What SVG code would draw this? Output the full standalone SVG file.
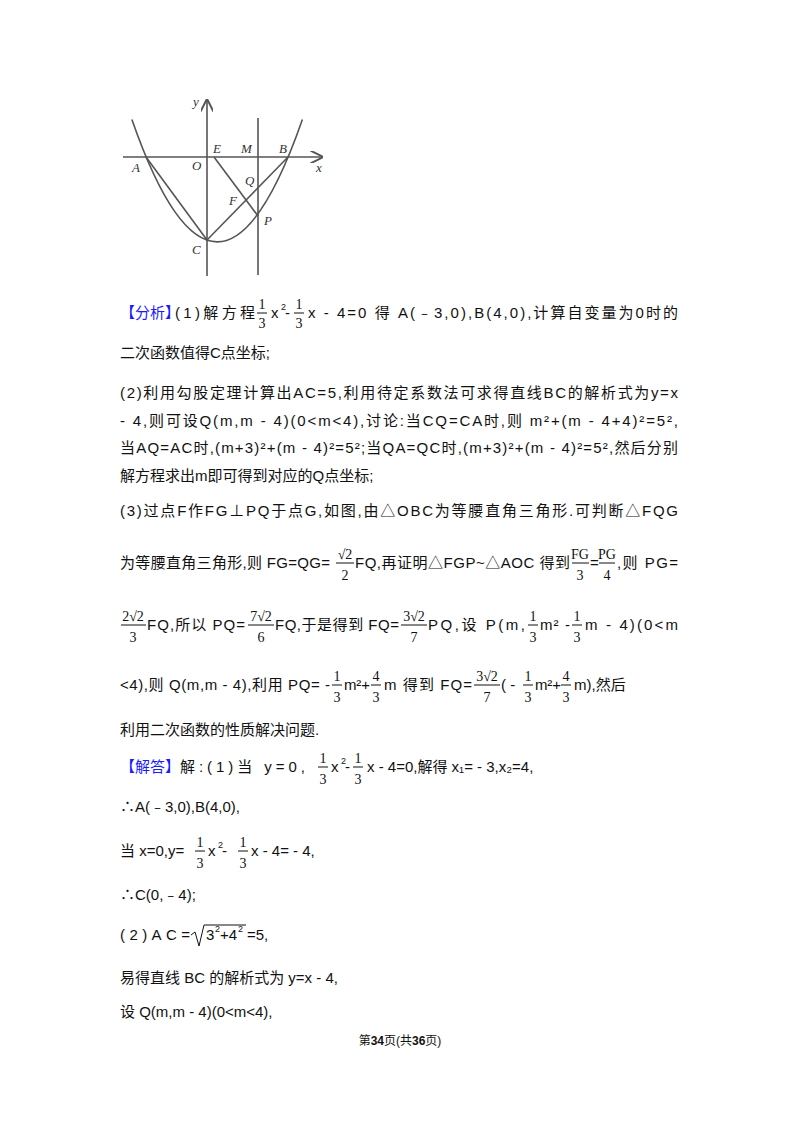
<svg xmlns="http://www.w3.org/2000/svg" width="800" height="1132" viewBox="0 0 800 1132">
<style>
text{font-family:"Liberation Sans","Noto Sans CJK SC",sans-serif;font-size:15px;fill:#111}
.b{fill:#1a1aff}
.f{font-family:"Liberation Serif","Noto Sans CJK SC",serif;font-size:14px;text-anchor:middle}
.s{font-size:9px}
.l{font-family:"Liberation Serif",serif;font-style:italic;font-size:13px;fill:#333}
.g{stroke:#555;stroke-width:1.6;fill:none}
.fl{stroke:#111;stroke-width:1}
</style>
<rect width="800" height="1132" fill="#fff"/>
<defs><marker id="ar" viewBox="0 0 10 10" refX="9" refY="5" markerWidth="8" markerHeight="8" orient="auto"><path d="M0,0 L10,5 L0,10" fill="none" stroke="#555" stroke-width="1.5"/></marker></defs>
<g id="figure">
<g id="connectors">
<line class="g" x1="123" y1="157" x2="322" y2="157" marker-end="url(#ar)"/>
<line class="g" x1="207" y1="276" x2="207" y2="100" marker-end="url(#ar)"/>
<line class="g" x1="258" y1="118" x2="258" y2="275"/>
<path class="g" d="M131.9,119.6 Q217.1,364.2 302.4,119.6"/>
<line class="g" x1="146" y1="157" x2="207" y2="240"/>
<line class="g" x1="207" y1="240" x2="288" y2="157"/>
<line class="g" x1="214" y1="157" x2="258" y2="216"/>
</g>
<text class="l" x="193" y="106">y</text><text class="l" x="316" y="172">x</text>
<text class="l" x="132" y="172">A</text><text class="l" x="192" y="170">O</text>
<text class="l" x="213" y="153">E</text><text class="l" x="241" y="153">M</text>
<text class="l" x="279" y="153">B</text><text class="l" x="245" y="185">Q</text>
<text class="l" x="229" y="205">F</text><text class="l" x="264" y="225">P</text>
<text class="l" x="192" y="254">C</text>
</g>
<g id="text">
<text class="b" x="120" y="318">【分析】</text>
<text x="175" y="318" textLength="80">(1)解方程</text>
<text class="f" x="262" y="309">1</text><line class="fl" x1="257" y1="313" x2="267" y2="313"/><text class="f" x="262" y="328">3</text>
<text x="271" y="318">x</text><text class="s" x="281" y="310">2</text><text x="285" y="318">-</text>
<text class="f" x="299" y="309">1</text><line class="fl" x1="294" y1="313" x2="304" y2="313"/><text class="f" x="299" y="328">3</text>
<text x="308" y="318" textLength="370">x - 4=0 得 A(﹣3,0),B(4,0),计算自变量为0时的</text>
<text x="120" y="358">二次函数值得C点坐标;</text>
<text x="120" y="398" textLength="558">(2)利用勾股定理计算出AC=5,利用待定系数法可求得直线BC的解析式为y=x</text>
<text x="120" y="426" textLength="558">- 4,则可设Q(m,m - 4)(0&lt;m&lt;4),讨论:当CQ=CA时,则 m²+(m - 4+4)²=5²,</text>
<text x="120" y="453" textLength="558">当AQ=AC时,(m+3)²+(m - 4)²=5²;当QA=QC时,(m+3)²+(m - 4)²=5²,然后分别</text>
<text x="120" y="481">解方程求出m即可得到对应的Q点坐标;</text>
<text x="120" y="516" textLength="558">(3)过点F作FG⊥PQ于点G,如图,由△OBC为等腰直角三角形.可判断△FQG</text>
<text x="120" y="568" textLength="210">为等腰直角三角形,则 FG=QG=</text>
<text class="f" x="345" y="559">√2</text><line class="fl" x1="336" y1="563" x2="354" y2="563"/><text class="f" x="345" y="580">2</text>
<text x="355" y="568" textLength="215">FQ,再证明△FGP~△AOC 得到</text>
<text class="f" x="580" y="559">FG</text><line class="fl" x1="572" y1="563" x2="589" y2="563"/><text class="f" x="580" y="580">3</text>
<text x="590" y="568">=</text>
<text class="f" x="607" y="559">PG</text><line class="fl" x1="599" y1="563" x2="615" y2="563"/><text class="f" x="607" y="580">4</text>
<text x="617" y="568" textLength="61">,则 PG=</text>
<text class="f" x="133" y="621">2√2</text><line class="fl" x1="121" y1="625" x2="146" y2="625"/><text class="f" x="133" y="642">3</text>
<text x="147" y="630" textLength="98">FQ,所以 PQ=</text>
<text class="f" x="261" y="621">7√2</text><line class="fl" x1="248" y1="625" x2="274" y2="625"/><text class="f" x="261" y="642">6</text>
<text x="275" y="630" textLength="124">FQ,于是得到 FQ=</text>
<text class="f" x="414" y="621">3√2</text><line class="fl" x1="401" y1="625" x2="427" y2="625"/><text class="f" x="414" y="642">7</text>
<text x="428" y="630" textLength="97">PQ,设 P(m,</text>
<text class="f" x="533" y="621">1</text><line class="fl" x1="528" y1="625" x2="538" y2="625"/><text class="f" x="533" y="642">3</text>
<text x="540" y="630" textLength="30">m² -</text>
<text class="f" x="577" y="621">1</text><line class="fl" x1="572" y1="625" x2="582" y2="625"/><text class="f" x="577" y="642">3</text>
<text x="585" y="630" textLength="93">m - 4)(0&lt;m</text>
<text x="120" y="690" textLength="210">&lt;4),则 Q(m,m - 4),利用 PQ= -</text>
<text class="f" x="337" y="681">1</text><line class="fl" x1="332" y1="685" x2="342" y2="685"/><text class="f" x="337" y="702">3</text>
<text x="344" y="690" textLength="26">m²+</text>
<text class="f" x="376" y="681">4</text><line class="fl" x1="371" y1="685" x2="381" y2="685"/><text class="f" x="376" y="702">3</text>
<text x="384" y="690" textLength="88">m 得到 FQ=</text>
<text class="f" x="487" y="681">3√2</text><line class="fl" x1="474" y1="685" x2="500" y2="685"/><text class="f" x="487" y="702">7</text>
<text x="501" y="690">( -</text>
<text class="f" x="528" y="681">1</text><line class="fl" x1="523" y1="685" x2="533" y2="685"/><text class="f" x="528" y="702">3</text>
<text x="535" y="690" textLength="26">m²+</text>
<text class="f" x="566" y="681">4</text><line class="fl" x1="561" y1="685" x2="571" y2="685"/><text class="f" x="566" y="702">3</text>
<text x="574" y="690">m),然后</text>
<text x="120" y="735">利用二次函数的性质解决问题.</text>
<text class="b" x="120" y="772">【解答】</text>
<text x="180" y="772" textLength="125">解:(1)当 y=0,</text>
<text class="f" x="323" y="763">1</text><line class="fl" x1="318" y1="767" x2="328" y2="767"/><text class="f" x="323" y="784">3</text>
<text x="331" y="772">x</text><text class="s" x="341" y="764">2</text><text x="345" y="772">-</text>
<text class="f" x="358" y="763">1</text><line class="fl" x1="353" y1="767" x2="363" y2="767"/><text class="f" x="358" y="784">3</text>
<text x="367" y="772">x - 4=0,解得 x₁= - 3,x₂=4,</text>
<text x="120" y="812">∴A(﹣3,0),B(4,0),</text>
<text x="120" y="856">当 x=0,y=</text>
<text class="f" x="200" y="847">1</text><line class="fl" x1="195" y1="851" x2="205" y2="851"/><text class="f" x="200" y="868">3</text>
<text x="208" y="856">x</text><text class="s" x="218" y="848">2</text><text x="222" y="856">-</text>
<text class="f" x="243" y="847">1</text><line class="fl" x1="238" y1="851" x2="248" y2="851"/><text class="f" x="243" y="868">3</text>
<text x="251" y="856">x - 4= - 4,</text>
<text x="120" y="900">∴C(0,﹣4);</text>
<text x="120" y="940" textLength="70">(2)AC=</text>
<path d="M191,935 L195,932 L199,946 L204,925 L246,925" fill="none" stroke="#111" stroke-width="1"/>
<text x="206" y="940">3</text><text class="s" x="215" y="932">2</text><text x="220" y="940">+4</text><text class="s" x="238" y="932">2</text>
<text x="247" y="940">=5,</text>
<text x="120" y="983">易得直线 BC 的解析式为 y=x - 4,</text>
<text x="120" y="1017">设 Q(m,m - 4)(0&lt;m&lt;4),</text>
<text x="400" y="1045" text-anchor="middle" style="font-size:12px">第<tspan font-weight="bold">34</tspan>页(共<tspan font-weight="bold">36</tspan>页)</text>
</g>
</svg>
